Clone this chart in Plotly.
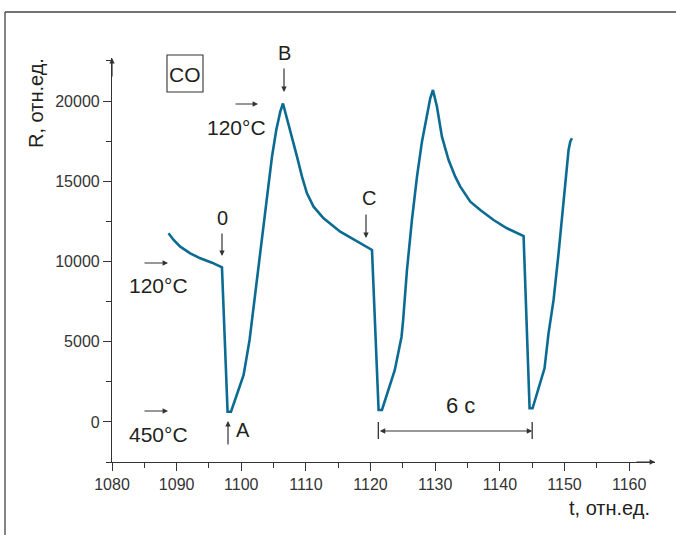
import plotly.graph_objects as go

# ---- data ----
t_values = [1088.75, 1089.53, 1090.56, 1092.1, 1093.66, 1095.47, 1097.01,
            1097.88, 1098.41, 1100.36, 1101.28, 1101.66, 1102.68, 1103.45, 1104.22,
            1104.75, 1105.41, 1106.03, 1106.45,
            1107.58, 1108.62, 1109.39, 1110.16, 1111.18, 1112.73, 1115.31, 1117.9, 1120.22,
            1121.24, 1121.76, 1123.75, 1124.79, 1125.04, 1125.63, 1126.4, 1127.18,
            1127.95, 1128.72, 1129.23, 1129.65,
            1130.27, 1131.04, 1132.07, 1133.1, 1133.88, 1135.43, 1136.97, 1139.03,
            1141.1, 1143.67,
            1144.6, 1145.06, 1146.91, 1147.53, 1148.31, 1149.08, 1149.61, 1150.12,
            1150.63, 1150.89, 1151.15]
r_values = [11757, 11340, 10922, 10511, 10199, 9925, 9638,
            636, 636, 2924, 5106, 6352, 9470, 11965, 14663,
            16533, 18197, 19338, 19850,
            18197, 16533, 15287, 14252, 13417, 12694, 11858, 11278, 10717,
            742, 742, 3235, 5311, 6352, 9470, 12587, 15286,
            17468, 19238, 20173, 20690,
            19650, 17780, 16327, 15286, 14663, 13727, 13210, 12587,
            12069, 11589,
            848, 848, 3341, 5523, 7606, 10511, 12587, 14874,
            16954, 17468, 17680]

x_ticks = [1080, 1090, 1100, 1110, 1120, 1130, 1140, 1150, 1160]
y_ticks = [0, 5000, 10000, 15000, 20000]
x_range = [1080, 1164.0]
y_range = [-2500, 22685]
period_start, period_end = 1121.2, 1145.0

# ---- layout helpers (pixels -> paper) ----
W, H = 676, 535
L, R, T, B = 112, 655, 58, 462
def px(x):
    return (x - L) / (R - L)
def py(y):
    return (B - y) / (B - T)

FONT = "Liberation Sans, Arial, sans-serif"
TXT = "#231f20"
LINE = "#0b6b92"

fig = go.Figure()
fig.add_trace(go.Scatter(x=t_values, y=r_values, mode="lines",
                         line=dict(color=LINE, width=2.6), hoverinfo="skip"))

axis_common = dict(showgrid=False, zeroline=False, showline=True,
                   linecolor="#333", linewidth=1.2, ticks="outside", ticklen=8,
                   tickcolor="#333", tickwidth=1,
                   tickfont=dict(family=FONT, size=16, color="#333"))
fig.update_xaxes(range=x_range, tickvals=x_ticks, **axis_common,
                 minor=dict(dtick=5, tick0=1080, ticklen=5, ticks="outside",
                            tickcolor="#333", tickwidth=1))
fig.update_yaxes(range=y_range, tickvals=y_ticks, tickformat="d", **axis_common,
                 minor=dict(dtick=2500, tick0=0, ticklen=5, ticks="outside",
                            tickcolor="#333", tickwidth=1))

ann = []
def text(x, y, s, size=20, xanchor="center", yanchor="middle", **kw):
    ann.append(dict(x=px(x), y=py(y), xref="paper", yref="paper", text=s,
                    showarrow=False, xanchor=xanchor, yanchor=yanchor,
                    font=dict(family=FONT, size=size, color=TXT), **kw))
def arrow(x, y, dx, dy, side="end"):
    # tip at (x, y) pixels, tail offset by (dx, dy) pixels
    ann.append(dict(x=px(x), y=py(y), xref="paper", yref="paper", text="",
                    showarrow=True, ax=dx, ay=dy, arrowhead=2, arrowsize=0.9,
                    arrowwidth=1.2, arrowcolor="#333", arrowside=side))

# axis arrowheads
arrow(R, B, -20, 0)
arrow(L, T, 0, 20)

# labels
text(185, 74, "CO", size=21)
text(284, 53, "B")
arrow(284, 92, 0, -25)
text(236, 127, "120°C", size=21)
arrow(258, 104, -24, 0)
text(222, 218, "0")
arrow(222, 256, 0, -24)
text(369, 198, "C")
arrow(366, 238, 0, -25)
text(158, 285, "120°C", size=21)
arrow(168, 263, -25, 0)
text(158, 434, "450°C", size=21)
arrow(168, 411, -25, 0)
text(243, 430, "A")
arrow(228, 421, 0, 25)
text(460, 405, "6 с", size=22)
ann.append(dict(x=period_end, y=py(431), xref="x", yref="y domain", text="",
                showarrow=True, ax=period_start, ay=py(431), axref="x", ayref="y domain",
                arrowhead=2, arrowsize=0.9, arrowwidth=1.2, arrowcolor="#333",
                arrowside="end+start", startarrowhead=2, startarrowsize=0.9))
text(652, 508, "t, отн.ед.", size=20, xanchor="right")
text(36, 103, "R, отн.ед.", size=20, textangle=-90)

shapes = []
for xv in (period_start, period_end):
    shapes.append(dict(type="line", xref="x", yref="paper", x0=xv, x1=xv,
                       y0=py(422), y1=py(439), line=dict(color="#333", width=1.3)))
# box around "CO"
shapes.append(dict(type="rect", xref="paper", yref="paper", x0=px(167), x1=px(203),
                   y0=py(92), y1=py(55), line=dict(color="#333", width=1.1)))
# outer frame (left and top)
shapes.append(dict(type="line", xref="paper", yref="paper", x0=px(5), x1=px(5),
                   y0=py(12), y1=py(540), line=dict(color="#666", width=1.6)))
shapes.append(dict(type="line", xref="paper", yref="paper", x0=px(5), x1=px(680),
                   y0=py(12), y1=py(12), line=dict(color="#444", width=1.4)))

fig.update_layout(width=W, height=H, margin=dict(l=L, r=W - R, t=T, b=H - B),
                  plot_bgcolor="white", paper_bgcolor="white", showlegend=False,
                  annotations=ann, shapes=shapes)
fig.write_html("out.html", config={"displayModeBar": False},
               post_script="document.body.style.margin='0';document.body.style.overflow='hidden';")
